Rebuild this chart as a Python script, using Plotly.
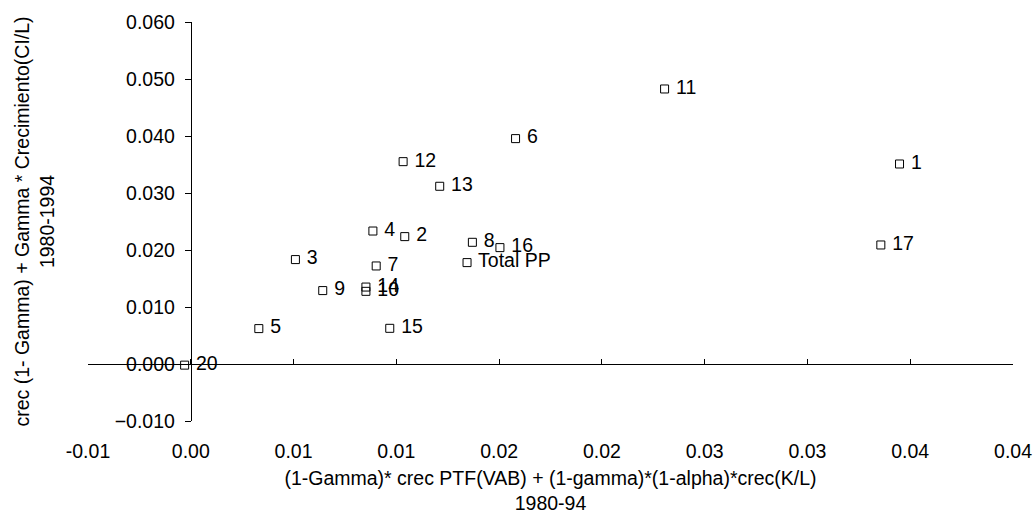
import plotly.graph_objects as go

# ---- data ----
labels = ["1", "2", "3", "4", "5", "6", "7", "8", "9", "10",
          "11", "12", "13", "14", "15", "16", "17", "20", "Total PP"]
x_vals = [0.03448, 0.01041, 0.00509, 0.00886, 0.00331, 0.01580, 0.00902, 0.01370, 0.00642, 0.00852,
          0.02305, 0.01033, 0.01211, 0.00852, 0.00968, 0.01504, 0.03357, -0.00030, 0.01344]
y_vals = [0.03509, 0.02235, 0.01832, 0.02333, 0.00621, 0.03954, 0.01720, 0.02135, 0.01288, 0.01275,
          0.04825, 0.03550, 0.03118, 0.01350, 0.00626, 0.02042, 0.02088, -0.00020, 0.01779]

x_tickvals = [-0.005, 0.0, 0.005, 0.01, 0.015, 0.02, 0.025, 0.03, 0.035, 0.04]
x_ticktext = ["-0.01", "0.00", "0.01", "0.01", "0.02", "0.02", "0.03", "0.03", "0.04", "0.04"]
y_tickvals = [-0.01, 0.0, 0.01, 0.02, 0.03, 0.04, 0.05, 0.06]

x_title = "(1-Gamma)* crec PTF(VAB) + (1-gamma)*(1-alpha)*crec(K/L)<br>1980-94"
y_title = "crec (1- Gamma) + Gamma * Crecimiento(CI/L)<br>1980-1994"

FONT = "Liberation Sans, Arial, sans-serif"
FS = 19.5

fig = go.Figure()
fig.add_trace(go.Scatter(
    x=x_vals, y=y_vals, mode="markers+text", text=labels,
    texttemplate=" %{text}",
    textposition="middle right",
    textfont=dict(family=FONT, size=FS, color="black"),
    marker=dict(symbol="square-open", size=8, color="black", line=dict(width=1, color="black")),
    showlegend=False, cliponaxis=False,
))
# invisible trace for the crossing x axis at y = 0
fig.add_trace(go.Scatter(x=x_vals, y=y_vals, xaxis="x2", mode="markers",
                         marker=dict(opacity=0), hoverinfo="skip", showlegend=False))

xr = [-0.005, 0.04]
yr = [-0.01, 0.06]

fig.update_layout(
    template="none",
    width=1033, height=514,
    margin=dict(l=88, r=20, t=22, b=93),
    paper_bgcolor="white", plot_bgcolor="white",
    font=dict(family=FONT, size=FS, color="black"),
    xaxis=dict(
        range=xr, domain=[0, 1], anchor="y",
        tickmode="array", tickvals=x_tickvals, ticktext=x_ticktext,
        showline=False, showgrid=False, zeroline=False, ticks="",
        ticklabelstandoff=16,
        tickfont=dict(family=FONT, size=FS, color="black"),
        title=dict(text=x_title, standoff=12, font=dict(family=FONT, size=FS, color="black")),
        automargin=False,
    ),
    xaxis2=dict(
        range=xr, overlaying="x", anchor="free", position=(0 - yr[0]) / (yr[1] - yr[0]),
        side="bottom",
        tickmode="array", tickvals=x_tickvals,
        showline=True, linecolor="black", linewidth=1,
        ticks="inside", ticklen=5, tickcolor="black",
        showticklabels=False, showgrid=False, zeroline=False,
        automargin=False,
    ),
    yaxis=dict(
        range=yr, domain=[0, 1], anchor="free", position=(0 - xr[0]) / (xr[1] - xr[0]),
        tickmode="array", tickvals=y_tickvals, tickformat=".3f",
        showline=True, linecolor="black", linewidth=1,
        ticks="outside", ticklen=6, tickcolor="black",
        ticklabelstandoff=6,
        showgrid=False, zeroline=False,
        tickfont=dict(family=FONT, size=FS, color="black"),
        title=dict(text=y_title, standoff=53, font=dict(family=FONT, size=FS, color="black")),
        automargin=False,
    ),
)

fig.write_html("out.html", config={"displayModeBar": False},
               post_script="document.body.style.margin='0';document.body.style.overflow='hidden';")
